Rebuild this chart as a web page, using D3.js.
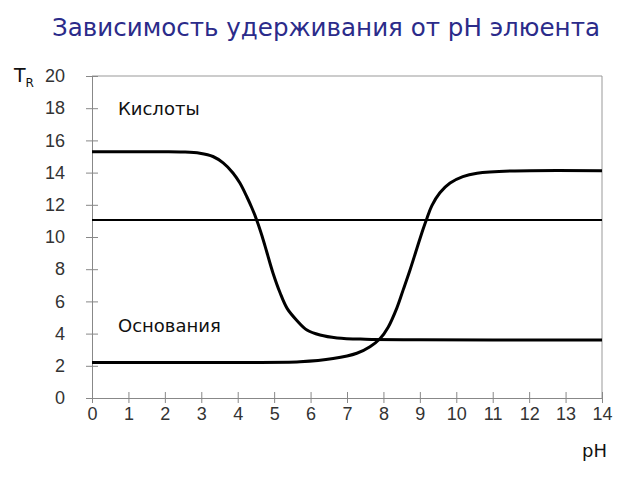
<!DOCTYPE html>
<html><head><meta charset="utf-8">
<script src="https://cdn.jsdelivr.net/npm/d3@7"></script>
<style>body{margin:0;background:#fff}svg{display:block}</style>
</head><body>
<svg id="c" width="640" height="480"></svg>
<script>
const title = "Зависимость удерживания от pH элюента";
const xTicks = [0,1,2,3,4,5,6,7,8,9,10,11,12,13,14];
const yTicks = [0,2,4,6,8,10,12,14,16,18,20];
const acidPH  = [0,1,2,2.5,2.96,3.32,3.6,3.87,4.06,4.25,4.39,4.53,4.67,4.8,4.97,5.16,5.36,5.63,5.9,6.26,6.73,7.5,9,11,14];
const acidTR  = [15.3,15.3,15.3,15.28,15.2,15.0,14.6,13.98,13.35,12.5,11.8,11.0,10.05,9.05,7.75,6.55,5.55,4.8,4.22,3.91,3.73,3.65,3.62,3.6,3.6];
const basePH  = [0,2,4,5.71,6.62,7.27,7.63,7.91,8.13,8.37,8.54,8.73,8.92,9.09,9.2,9.33,9.55,9.83,10.18,10.57,11.5,14];
const baseTR  = [2.2,2.2,2.21,2.25,2.45,2.78,3.19,3.7,4.4,5.6,6.7,7.95,9.3,10.5,11.2,11.95,12.75,13.35,13.75,13.96,14.1,14.12];
const neutralPH = [0,14];
const neutralTR = [11.05,11.05];

const svg = d3.select("#c");
const x = d3.scaleLinear().domain([0,14]).range([92,602]);
const y = d3.scaleLinear().domain([0,20]).range([398,76]);

svg.append("text").attr("x",326).attr("y",36).attr("text-anchor","middle")
  .attr("font-family","DejaVu Sans, sans-serif").attr("font-size",25)
  .attr("textLength",548).attr("lengthAdjust","spacingAndGlyphs")
  .attr("fill","#2b2b8a").text(title);

// frame
svg.append("line").attr("x1",x(0)).attr("x2",x(14)).attr("y1",y(20)).attr("y2",y(20)).attr("stroke","#999").attr("stroke-width",1);
svg.append("line").attr("x1",x(14)).attr("x2",x(14)).attr("y1",y(20)).attr("y2",y(0)).attr("stroke","#999").attr("stroke-width",1);

const xa = svg.append("g").attr("transform",`translate(0,${y(0)})`)
  .call(d3.axisBottom(x).tickValues(xTicks).tickSizeInner(6).tickSizeOuter(0).tickPadding(3));
const ya = svg.append("g").attr("transform",`translate(${x(0)},0)`)
  .call(d3.axisLeft(y).tickValues(yTicks).tickSizeInner(6).tickSizeOuter(0).tickPadding(21));
[xa,ya].forEach(g=>{
  g.select(".domain").attr("stroke","#888");
  g.selectAll(".tick line").attr("stroke","#888");
  g.selectAll("text").attr("font-family","Liberation Sans, Arial, sans-serif").attr("font-size",18).attr("fill","#333");
});
xa.selectAll(".tick line").attr("y1",-6).attr("y2",5);
ya.selectAll(".tick line").attr("x1",6).attr("x2",-6);

const line = d3.line().x(d=>x(d[0])).y(d=>y(d[1])).curve(d3.curveCatmullRom.alpha(0.5));
svg.append("path").datum(neutralPH.map((p,i)=>[p,neutralTR[i]])).attr("d",line)
  .attr("fill","none").attr("stroke","#000").attr("stroke-width",2);
svg.append("path").datum(acidPH.map((p,i)=>[p,acidTR[i]])).attr("d",line)
  .attr("fill","none").attr("stroke","#000").attr("stroke-width",3);
svg.append("path").datum(basePH.map((p,i)=>[p,baseTR[i]])).attr("d",line)
  .attr("fill","none").attr("stroke","#000").attr("stroke-width",3);

const lab = (t,xx,yy,fs)=>svg.append("text").attr("x",xx).attr("y",yy)
  .attr("font-family","DejaVu Sans, sans-serif").attr("font-size",fs).attr("fill","#111").text(t);
lab("Кислоты",118,115,18);
lab("Основания",118,332,18);
lab("pH",582,457,18);
const tr = svg.append("text").attr("x",14).attr("y",82).attr("font-family","DejaVu Sans, sans-serif").attr("font-size",19).attr("fill","#111");
tr.append("tspan").text("T");
tr.append("tspan").attr("font-size",12).attr("dy",5).text("R");
</script>
</body></html>
